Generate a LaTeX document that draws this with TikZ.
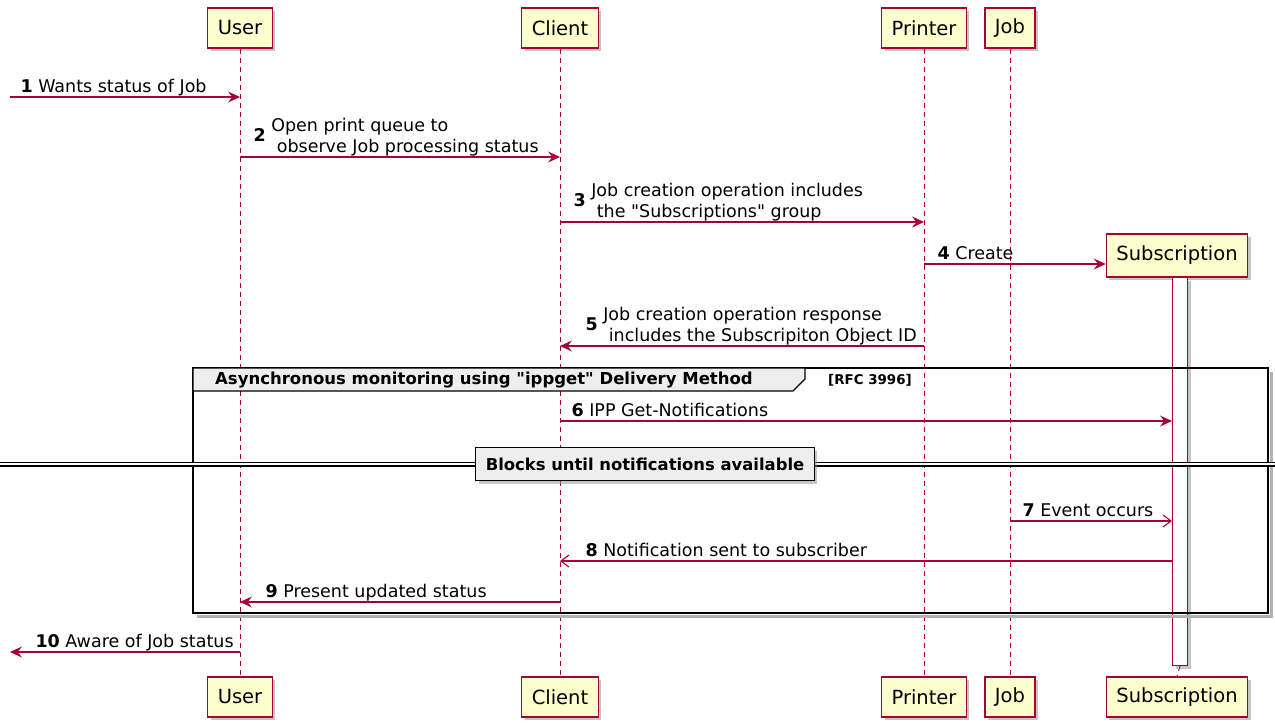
\documentclass[tikz,border=0pt]{standalone}
\usepackage{fontspec}
\setmainfont{DejaVu Sans}
\usepackage{xcolor}
\definecolor{SeqRed}{HTML}{A80036}
\definecolor{SeqFill}{HTML}{FEFECE}
\definecolor{SeqGray}{HTML}{EEEEEE}
\usepackage{tikz}
\usetikzlibrary{positioning, arrows.meta, shadows}

\tikzset{
  actor/.style={draw=SeqRed, fill=SeqFill, line width=1.4pt, minimum height=40pt,
    inner xsep=10pt, font=\fontsize{19.5}{22}\selectfont,
    drop shadow={shadow xshift=3pt, shadow yshift=-3pt, fill=black!45, opacity=0.5}},
  life/.style={SeqRed, line width=0.9pt, dash pattern=on 5pt off 4pt},
  actbar/.style={draw=SeqRed, fill=white, line width=1.1pt, minimum width=15pt,
    inner sep=0pt, drop shadow={shadow xshift=3pt, shadow yshift=-3pt, fill=black!45, opacity=0.5}},
  msg/.style={SeqRed, line width=1.1pt, -{Stealth[length=12pt, width=11pt, inset=4.5pt]}},
  amsg/.style={SeqRed, line width=1.1pt, -{Straight Barb[length=8pt, width=12pt]}},
  lbl/.style={black, font=\fontsize{17.5}{21}\selectfont, inner sep=0pt, anchor=base west},
  grpframe/.style={black, line width=2pt},
  grpshade/.style={black!30, line width=3pt},
  hdr/.style={draw=black, fill=SeqGray, line width=1.3pt},
  hdrtext/.style={font=\bfseries\fontsize{16.5}{18}\selectfont, inner sep=0pt, anchor=west},
  divbox/.style={draw=black, fill=SeqGray, line width=1.4pt, minimum height=33pt, inner xsep=10pt,
    font=\bfseries\fontsize{16.4}{18}\selectfont,
    drop shadow={shadow xshift=3pt, shadow yshift=-3pt, fill=black!45, opacity=0.5}},
}
\newcommand{\msgtwo}[3]{\raisebox{10.5pt}{\textbf{#1}}\ \begin{tabular}[b]{@{}l@{}}#2\\#3\end{tabular}}

\begin{document}
\begin{tikzpicture}[x=1pt, y=-1pt]
\useasboundingbox (0,0) rectangle (1275,723);

% Participantes
\node[actor] (userT) at (240,28) {User};
\node[actor] (clientT) at (560,28) {Client};
\node[actor] (printerT) at (924,28) {Printer};
\node[actor] (jobT) at (1010,28) {Job};
\node[actor] (userB) at (240,697) {User};
\node[actor] (clientB) at (560,697) {Client};
\node[actor] (printerB) at (924,697) {Printer};
\node[actor] (jobB) at (1010,697) {Job};
\node[actor] (subB) at (1177,697) {Subscription};

% Lineas de vida
\draw[life] (userT.south) -- (userB.north);
\draw[life] (clientT.south) -- (clientB.north);
\draw[life] (printerT.south) -- (printerB.north);
\draw[life] (jobT.south) -- (jobB.north);

% Filas de mensajes
\coordinate (edgeL) at (10,0);
\coordinate (r1) at (0,97);
\coordinate (r2) at (0,157);
\coordinate (r3) at (0,222);
\coordinate (r4) at (0,264);
\coordinate (r5) at (0,346);
\coordinate (r6) at (0,421);
\coordinate (r7) at (0,521);
\coordinate (r8) at (0,561);
\coordinate (r9) at (0,602);
\coordinate (r10) at (0,652);

% Suscripcion creada
\node[actor, minimum height=43pt] (subT) at (1177,255.5) {Subscription};
\node[actbar, minimum height=388pt, anchor=north] (subAct) at (1180,277) {};
\draw[life] (subAct.south) -- (subB.north);

% Mensajes
\draw[msg] (edgeL |- r1) -- (userT |- r1)
  node[lbl, at start, xshift=10pt, yshift=5pt] (m1) {\textbf{1} Wants status of Job};
\draw[msg] (userT |- r2) -- (clientT |- r2)
  node[lbl, at start, xshift=13pt, yshift=5pt] (m2) {\msgtwo{2}{Open print queue to}{\ observe Job processing status}};
\draw[msg] (clientT |- r3) -- (printerT |- r3)
  node[lbl, at start, xshift=13pt, yshift=5pt] (m3) {\msgtwo{3}{Job creation operation includes}{\ the \textquotedbl Subscriptions\textquotedbl{} group}};
\draw[msg] (printerT |- r4) -- (subT.west |- r4)
  node[lbl, at start, xshift=13pt, yshift=5pt] (m4) {\textbf{4} Create};
\draw[msg] (printerT |- r5) -- (clientT |- r5)
  node[lbl, at end, xshift=25pt, yshift=5pt] (m5) {\msgtwo{5}{Job creation operation response}{\ includes the Subscripiton Object ID}};

% Grupo asincrono
\draw[grpshade] (1271,372) -- (1271,616) -- (197,616);
\draw[grpframe] (193,368) rectangle (1268,613);
\draw[hdr] (193,368) -- (805,368) -- (805,379) -- (793,391) -- (193,391) -- cycle;
\node[hdrtext] (grpT) at (215,380) {Asynchronous monitoring using \textquotedbl ippget\textquotedbl{} Delivery Method};
\node[hdrtext, font=\bfseries\fontsize{13.4}{15}\selectfont] (grpR) at (828,380) {[RFC 3996]};

\draw[msg] (clientT |- r6) -- (subAct.west |- r6)
  node[lbl, at start, xshift=11pt, yshift=5pt] (m6) {\textbf{6} IPP Get-Notifications};

% Separador
\coordinate (divL) at (0,464);
\coordinate (divR) at (1275,464);
\draw[black, line width=1.2pt, double, double distance=2.6pt] (divL) -- (divR);
\node[divbox] (blk) at (645,464) {Blocks until notifications available};

\draw[amsg] (jobT |- r7) -- (subAct.west |- r7)
  node[lbl, at start, xshift=12pt, yshift=5pt] (m7) {\textbf{7} Event occurs};
\draw[amsg] (subAct.west |- r8) -- (clientT |- r8)
  node[lbl, at end, xshift=25pt, yshift=5pt] (m8) {\textbf{8} Notification sent to subscriber};
\draw[msg] (clientT |- r9) -- (userT |- r9)
  node[lbl, at end, xshift=25pt, yshift=5pt] (m9) {\textbf{9} Present updated status};
\draw[msg] (userT |- r10) -- (edgeL |- r10)
  node[lbl, at end, xshift=25pt, yshift=5pt] (m10) {\textbf{10} Aware of Job status};
\end{tikzpicture}
\end{document}
